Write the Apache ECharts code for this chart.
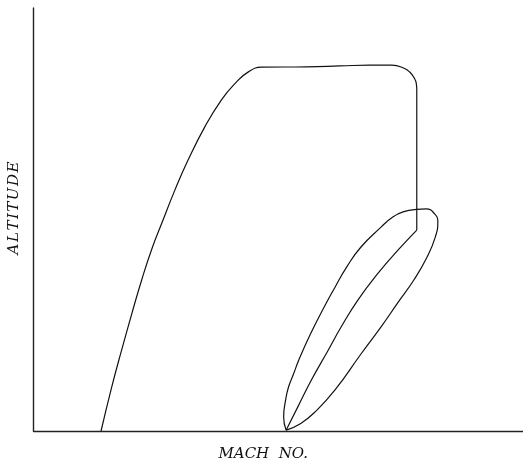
<!DOCTYPE html>
<html>
<head>
<meta charset="utf-8">
<script src="https://cdn.jsdelivr.net/npm/echarts@6/dist/echarts.min.js"></script>
<style>
  html, body { margin: 0; padding: 0; background: #fff; }
  #chart { width: 523px; height: 462px; }
</style>
</head>
<body>
<div id="chart"></div>
<script>
// Flight envelope in relative units (Mach on x, altitude on y, both 0-100).
// Low-speed boundary, ceiling with its rounded corner, and high-speed limit.
const envelopeMach = [13.8, 16.0, 18.0, 20.1, 22.1, 24.1, 26.2, 28.9, 31.6, 35.0, 38.4, 41.2, 43.9, 46.6, 55.8, 62.6, 68.7, 73.2, 75.8, 76.9, 77.7, 78.2, 78.3, 78.3];
const envelopeAlt  = [0.0, 10.5, 19.1, 27.8, 35.7, 42.8, 49.1, 57.0, 64.1, 71.9, 78.3, 82.2, 84.9, 86.0, 86.1, 86.3, 86.5, 86.5, 85.7, 84.8, 83.6, 82.2, 80.6, 47.5];

// Lower high-speed boundary running back down to the ground
const diagonalMach = [78.3, 74.5, 70.4, 66.3, 62.9, 60.2, 56.8, 54.0, 51.6];
const diagonalAlt  = [47.5, 42.8, 37.3, 31.0, 24.7, 19.1, 12.1, 5.7, 0.2];

// Closed loop region
const loopMach = [51.6, 51.1, 51.5, 52.1, 53.2, 54.2, 56.7, 59.6, 61.6, 64.0, 66.9, 71.0, 73.4, 75.5, 78.3, 80.2, 81.9, 82.6, 82.1, 80.3, 77.7, 74.4, 71.0, 66.9, 61.6, 57.7, 54.6, 51.6];
const loopAlt  = [0.2, 3.3, 7.3, 10.4, 13.7, 16.8, 23.2, 29.8, 34.0, 38.8, 43.5, 48.2, 50.6, 51.8, 52.4, 52.5, 51.4, 49.5, 45.9, 40.9, 35.7, 30.3, 24.6, 18.2, 9.7, 4.7, 1.8, 0.2];

const xName = 'MACH  NO.';
const yName = 'A\u200AL\u200AT\u200AI\u200AT\u200AU\u200AD\u200AE';

const zip = (xs, ys) => xs.map((x, i) => [x, ys[i]]);

const lineStyle = { color: '#111', width: 1.2 };
const nameFont = { fontFamily: 'DejaVu Serif', fontStyle: 'italic', fontSize: 15, color: '#111' };

const chart = echarts.init(document.getElementById('chart'), null, { renderer: 'canvas' });
chart.setOption({
  animation: false,
  backgroundColor: '#fff',
  grid: { left: 33.5, right: 0, top: 8, bottom: 31, outerBoundsMode: 'none', containLabel: false },
  xAxis: {
    type: 'value', min: 0, max: 100,
    name: xName, nameLocation: 'middle', nameGap: 16,
    nameTextStyle: Object.assign({ padding: [0, 30, 0, 0] }, nameFont),
    axisLine: { show: true, lineStyle: { color: '#222', width: 1.4 } },
    axisTick: { show: false }, axisLabel: { show: false }, splitLine: { show: false }
  },
  yAxis: {
    type: 'value', min: 0, max: 100,
    name: yName, nameLocation: 'middle', nameGap: 12,
    nameTextStyle: Object.assign({ padding: [0, 0, 0, 23] }, nameFont),
    axisLine: { show: true, lineStyle: { color: '#222', width: 1.4 } },
    axisTick: { show: false }, axisLabel: { show: false }, splitLine: { show: false }
  },
  series: [
    { type: 'line', data: zip(envelopeMach, envelopeAlt), smooth: 0.5, showSymbol: false, lineStyle },
    { type: 'line', data: zip(diagonalMach, diagonalAlt), smooth: 0.5, showSymbol: false, lineStyle },
    { type: 'line', data: zip(loopMach, loopAlt), smooth: 0.5, showSymbol: false, lineStyle }
  ]
});
</script>
</body>
</html>
